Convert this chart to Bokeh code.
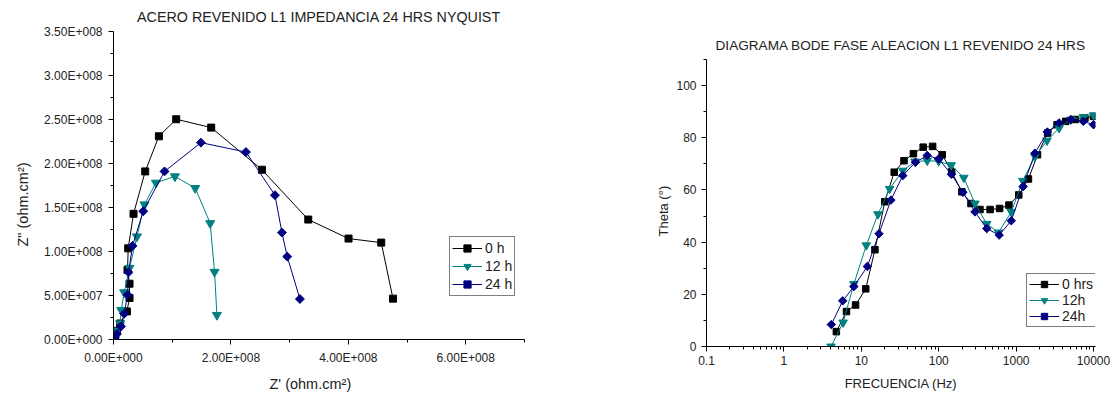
from bokeh.plotting import figure
from bokeh.models import (Range1d, FixedTicker, CustomJSTickFormatter, Legend, LegendItem, Title)
from bokeh.embed import file_html
from bokeh.resources import INLINE

FONT = "Liberation Sans"

# ---------------- Nyquist data (Z' , Z'' in ohm.cm2) ----------------
ny_labels = ["0 h", "12 h", "24 h"]
z0_re = [1.0e6, 2.9e6, 5.8e6, 11.4e6, 22.8e6, 27.3e6, 27.3e6, 23.9e6, 25.0e6, 34.1e6,
         54.0e6, 77.3e6, 106.8e6, 166.4e6, 252.8e6, 331.7e6, 400.3e6, 456.0e6, 476.0e6]
z0_im = [1.5e6, 4.2e6, 9.9e6, 18.2e6, 31.9e6, 47.2e6, 63.4e6, 79.0e6, 103.6e6, 142.8e6,
         191.0e6, 230.9e6, 250.3e6, 240.8e6, 192.9e6, 136.3e6, 114.7e6, 110.1e6, 46.4e6]
z12_re = [1.0e6, 3.0e6, 6.0e6, 11.4e6, 13.1e6, 18.2e6, 27.3e6, 39.9e6, 52.8e6, 72.2e6,
          104.6e6, 139.2e6, 164.7e6, 172.1e6, 176.1e6]
z12_im = [1.0e6, 4.0e6, 10.0e6, 18.2e6, 33.5e6, 53.5e6, 81.3e6, 117.0e6, 153.4e6, 178.1e6,
          185.3e6, 172.0e6, 132.1e6, 76.8e6, 27.8e6]
z24_re = [0.5e6, 2.0e6, 5.8e6, 12.6e6, 18.2e6, 23.9e6, 25.6e6, 32.4e6, 50.6e6, 86.9e6,
          148.9e6, 225.6e6, 275.0e6, 286.9e6, 295.9e6, 317.5e6]
z24_im = [0.5e6, 2.0e6, 6.2e6, 14.8e6, 29.3e6, 50.9e6, 76.3e6, 106.4e6, 145.8e6, 191.0e6,
          223.7e6, 213.0e6, 164.0e6, 121.5e6, 94.2e6, 46.0e6]

# ---------------- Bode phase data ----------------
bode_labels = ["0 hrs", "12h", "24h"]
f0 = [4.76, 6.43, 8.43, 11.4, 15.0, 20.1, 26.6, 35.6, 47.1, 63.0, 83.4, 111, 147, 199,
      261, 341, 461, 611, 807, 1081, 1442, 1888, 2553, 3381, 4375, 5808, 7745, 10000]
th0 = [5.7, 13.4, 15.9, 22.1, 37.1, 55.5, 66.8, 71.2, 73.9, 76.4, 76.7, 73.5, 67.0, 59.3,
       54.8, 52.5, 52.5, 52.9, 54.2, 58.1, 64.2, 73.5, 81.8, 85.0, 86.3, 87.0, 87.6, 88.2]
f12 = [4.06, 5.82, 8.02, 11.6, 16.4, 23.2, 34.3, 49.5, 71.0, 100, 145, 211, 294, 417,
       593, 865, 1219, 1750, 2506, 3589, 5093, 7379, 10000]
th12 = [0.0, 9.2, 24.0, 38.8, 50.7, 60.4, 67.4, 70.9, 71.2, 71.0, 69.5, 64.7, 54.8, 47.0,
        43.7, 51.6, 63.5, 72.8, 78.9, 83.7, 87.0, 87.9, 88.6]
f24 = [4.10, 5.75, 8.02, 11.97, 16.9, 24.1, 34.3, 50.0, 71.0, 99.8, 146, 205, 294, 417,
       604, 865, 1230, 1750, 2529, 3589, 5093, 7379, 10000]
th24 = [8.4, 17.5, 23.0, 30.7, 43.2, 56.1, 65.5, 70.6, 73.2, 71.9, 66.0, 59.1, 51.6, 45.2,
        42.7, 48.2, 61.3, 74.1, 82.2, 85.7, 87.0, 86.3, 85.0]

ny_x_ticks = [0, 2e8, 4e8, 6e8]
ny_x_minor = [1e8, 3e8, 5e8, 7e8]
ny_y_ticks = [0, 5e7, 1e8, 1.5e8, 2e8, 2.5e8, 3e8, 3.5e8]
ny_y_minor = [2.5e7, 7.5e7, 1.25e8, 1.75e8, 2.25e8, 2.75e8, 3.25e8]
bode_x_ticks = [0.1, 1, 10, 100, 1000, 10000]
bode_y_ticks = [0, 20, 40, 60, 80, 100]
bode_y_minor = [10, 30, 50, 70, 90, 110]

BLACK = "#000000"
TEAL = "#008080"
NAVY = "#000080"
TXT = "#222222"

sci_fmt = CustomJSTickFormatter(code="""
if (Math.abs(tick) < 1e-12) return "0.00E+000";
const e = Math.floor(Math.log10(Math.abs(tick)) + 1e-9);
const m = tick / Math.pow(10, e);
return m.toFixed(2) + "E" + (e < 0 ? "-" : "+") + String(Math.abs(e)).padStart(3, "0");
""")
plain_fmt = CustomJSTickFormatter(code="return String(Number(tick.toPrecision(6)));")


def style_axis(ax, size="12px", lab_size="13px"):
    ax.axis_line_color = "black"
    ax.axis_line_width = 1
    ax.major_tick_in = 0
    ax.major_tick_out = 5
    ax.minor_tick_in = 0
    ax.minor_tick_out = 3
    ax.major_tick_line_color = "black"
    ax.minor_tick_line_color = "black"
    ax.major_label_text_font = FONT
    ax.major_label_text_font_size = size
    ax.major_label_text_color = TXT
    ax.axis_label_text_font = FONT
    ax.axis_label_text_font_size = lab_size
    ax.axis_label_text_font_style = "normal"
    ax.axis_label_text_color = TXT


def style_fig(p, tsize, standoff):
    p.outline_line_color = None
    p.xgrid.visible = False
    p.ygrid.visible = False
    p.background_fill_color = "white"
    p.border_fill_color = "white"
    p.title.text_font = FONT
    p.title.text_font_size = tsize
    p.title.text_font_style = "normal"
    p.title.text_color = TXT
    p.title.align = "center"
    p.title.standoff = standoff


def make_legend(items, loc, font_size, row_h, padding):
    lg = Legend(items=items, location=loc)
    lg.border_line_color = "black"
    lg.border_line_width = 1
    lg.background_fill_color = "white"
    lg.background_fill_alpha = 1.0
    lg.padding = padding
    lg.spacing = 0
    lg.margin = 0
    lg.label_standoff = 3
    lg.glyph_width = 30
    lg.glyph_height = row_h
    lg.label_height = row_h
    lg.label_text_font = FONT
    lg.label_text_font_size = font_size
    lg.label_text_color = TXT
    return lg


def side_label(p, text, side, size, offset, standoff):
    # axis title placed in a side panel; offset = distance (px) from the frame's
    # left (below) or bottom (left) edge to the start of the text
    t = Title(text=text, align="left", offset=offset, standoff=standoff,
              text_font=FONT, text_font_size=size, text_font_style="normal",
              text_color=TXT)
    p.add_layout(t, side)


# ---------------- Nyquist figure ----------------
p1 = figure(width=560, height=398, output_backend="svg", toolbar_location=None,
            x_range=Range1d(0, 7e8), y_range=Range1d(0, 3.5e8),
            min_border_left=113, min_border_right=36, min_border_top=31, min_border_bottom=59,
            title="ACERO REVENIDO L1 IMPEDANCIA 24 HRS NYQUIST")
style_fig(p1, "14.3px", 13)
p1.xaxis.ticker = FixedTicker(ticks=ny_x_ticks, minor_ticks=ny_x_minor)
p1.yaxis.ticker = FixedTicker(ticks=ny_y_ticks, minor_ticks=ny_y_minor)
p1.xaxis.formatter = sci_fmt
p1.yaxis.formatter = sci_fmt
style_axis(p1.xaxis[0])
style_axis(p1.yaxis[0])
p1.xaxis.major_label_standoff = 6
p1.yaxis.major_label_standoff = 6
side_label(p1, "Z' (ohm.cm\u00b2)", "below", "14.5px", 156, 12)
side_label(p1, 'Z" (ohm.cm\u00b2)', "left", "14.5px", 93, 21)

items1 = []
for lab, xs, ys, col, mk, sz, ang in [
        (ny_labels[0], z0_re, z0_im, BLACK, "square", 7, 0.0),
        (ny_labels[1], z12_re, z12_im, TEAL, "inverted_triangle", 9, 0.0),
        (ny_labels[2], z24_re, z24_im, NAVY, "square", 6.3, 0.785398)]:
    l = p1.line(xs, ys, line_color=col, line_width=1)
    s = p1.scatter(xs, ys, marker=mk, size=sz, angle=ang, fill_color=col, line_color=col)
    items1.append(LegendItem(label=lab, renderers=[l, s]))
p1.add_layout(make_legend(items1, (336, 43), "14px", 18, 2))

# ---------------- Bode figure ----------------
p2 = figure(width=553, height=398, output_backend="svg", toolbar_location=None,
            x_axis_type="log", x_range=Range1d(0.1, 1.06e4), y_range=Range1d(0, 110),
            min_border_left=146, min_border_right=18, min_border_top=59, min_border_bottom=52,
            title="DIAGRAMA BODE FASE ALEACION L1 REVENIDO 24 HRS")
style_fig(p2, "13.6px", 14)
bode_x_minor = [m * d for d in [0.1, 1, 10, 100, 1000] for m in range(2, 10)]
p2.xaxis.ticker = FixedTicker(ticks=bode_x_ticks, minor_ticks=bode_x_minor)
p2.yaxis.ticker = FixedTicker(ticks=bode_y_ticks, minor_ticks=bode_y_minor)
p2.xaxis.formatter = plain_fmt
p2.xaxis.axis_label = "FRECUENCIA (Hz)"
style_axis(p2.xaxis[0], lab_size="13px")
style_axis(p2.yaxis[0])
p2.xaxis.major_label_standoff = 4
p2.xaxis.axis_label_standoff = 8
p2.yaxis.major_label_standoff = 5
side_label(p2, "Theta (\u00b0)", "left", "13px", 110, 6)

items2 = []
for lab, xs, ys, col, mk, sz, ang in [
        (bode_labels[0], f0, th0, BLACK, "square", 6.5, 0.0),
        (bode_labels[1], f12, th12, TEAL, "inverted_triangle", 8.5, 0.0),
        (bode_labels[2], f24, th24, NAVY, "square", 6, 0.785398)]:
    l = p2.line(xs, ys, line_color=col, line_width=1)
    s = p2.scatter(xs, ys, marker=mk, size=sz, angle=ang, fill_color=col, line_color=col)
    items2.append(LegendItem(label=lab, renderers=[l, s]))
p2.add_layout(make_legend(items2, (320, 19), "14px", 16, 2))

# Two independent roots (so the plot frames are not forced into alignment),
# placed side by side with a flex body.
css = ("<style>html, body { margin: 0 !important; padding: 0 !important; } "
       "body { display: flex !important; flex-direction: row !important; "
       "flex-wrap: nowrap !important; align-items: flex-start !important; }</style>")
html = file_html([p1, p2], INLINE)
if "</head>" in html:
    html = html.replace("</head>", css + "\n</head>", 1)
else:
    html = css + html
open("out.html", "w").write(html)
